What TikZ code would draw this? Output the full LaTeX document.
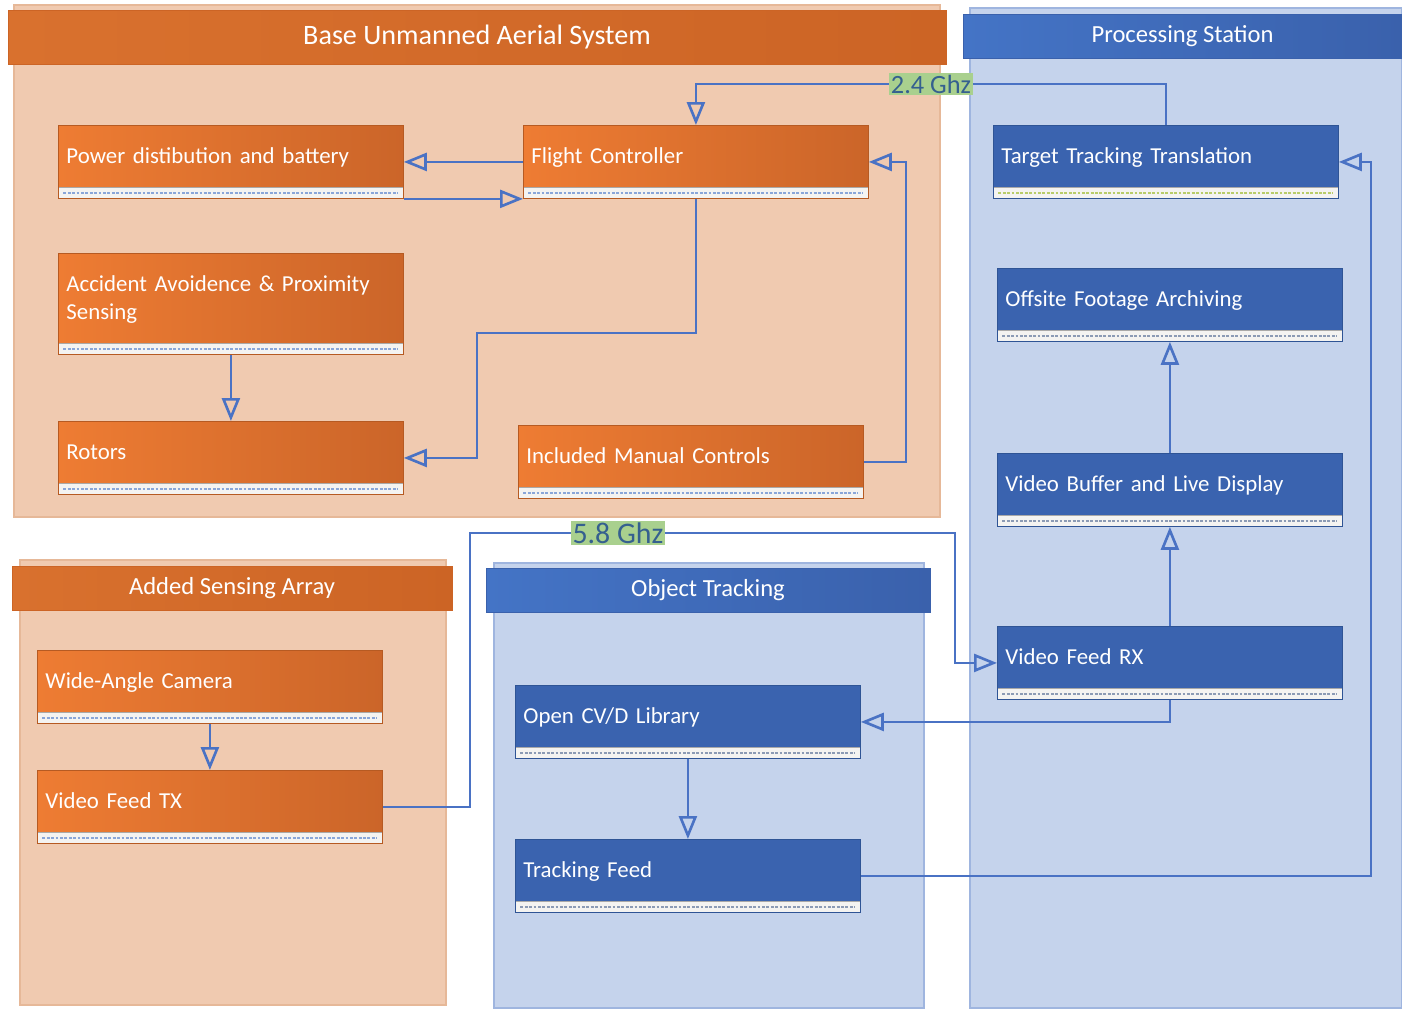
\documentclass[tikz,border=0pt]{standalone}
\usepackage{fontspec}
\setmainfont{Carlito}
\usepackage{tikz}
\usetikzlibrary{arrows.meta}
\usetikzlibrary{positioning}

\definecolor{peachpanel}{HTML}{F0CAB0}
\definecolor{peachedge}{HTML}{E6B898}
\definecolor{skypanel}{HTML}{C5D3EC}
\definecolor{skyedge}{HTML}{9FB5DF}
\definecolor{headorangeL}{HTML}{D9712E}
\definecolor{headorangeD}{HTML}{CC6425}
\definecolor{headblueL}{HTML}{4474C6}
\definecolor{headblueD}{HTML}{3A61AC}
\definecolor{orangeL}{HTML}{EE7C33}
\definecolor{orangeD}{HTML}{CB6529}
\definecolor{orangeedge}{HTML}{B65A22}
\definecolor{boxblue}{HTML}{3A63AF}
\definecolor{blueedge}{HTML}{2F5495}
\definecolor{linkblue}{HTML}{4A72C4}
\definecolor{stripbg}{HTML}{F4F3F1}
\definecolor{stripblue}{HTML}{8AA6D8}
\definecolor{stripgray}{HTML}{8C9BB5}
\definecolor{stripgreen}{HTML}{B8CC6A}
\definecolor{ghzgreen}{HTML}{A9D08E}
\definecolor{ghztext}{HTML}{35608F}

\tikzset{
  orangepanel/.style={fill=peachpanel, draw=peachedge, line width=0.6pt},
  bluepanel/.style={fill=skypanel, draw=skyedge, line width=0.6pt},
  orangehead/.style={left color=headorangeL, right color=headorangeD, draw=headorangeD, text=white, inner sep=0pt},
  bluehead/.style={left color=headblueL, right color=headblueD, draw=headblueD, text=white, inner sep=0pt, font=\fontsize{14}{16}\selectfont},
  comp/.style={anchor=north west, text width=6.58cm, inner xsep=0.16cm, inner ysep=0pt,
    text height=0.76cm, text depth=0.7cm, align=left, text=white, line width=0.5pt,
    font=\fontsize{13}{15.9}\selectfont,
    path picture={
      \fill[stripbg] (path picture bounding box.south west) rectangle ([yshift=0.22cm]path picture bounding box.south east);
      \draw[black, draw opacity=0.3, line width=0.4pt] ([yshift=0.22cm]path picture bounding box.south west) -- ([yshift=0.22cm]path picture bounding box.south east);
      \draw[#1, line width=0.9pt, dash pattern=on 1.6pt off 0.9pt] ([xshift=0.1cm,yshift=0.11cm]path picture bounding box.south west) -- ([xshift=-0.1cm,yshift=0.11cm]path picture bounding box.south east);
    }},
  orangebox/.style={comp=#1, draw=orangeedge, left color=orangeL, right color=orangeD},
  orangebox/.default=stripblue,
  bluebox/.style={comp=#1, draw=blueedge, fill=boxblue},
  bluebox/.default=stripgray,
  link/.style={draw=linkblue, line width=1.5pt, -{Triangle[open, length=0.46cm, width=0.36cm]}},
  ghz/.style={fill=ghzgreen, text=ghztext, inner sep=1pt}
}

\begin{document}
\begin{tikzpicture}[x=0.02cm,y=-0.02cm]
\useasboundingbox (0,0) rectangle (1402,1008);

% panels
\draw[orangepanel] (14,5) rectangle (940,517);
\draw[bluepanel] (970,8) rectangle (1402,1008);
\draw[orangepanel] (20,560) rectangle (446,1005);
\draw[bluepanel] (494,563) rectangle (924,1008);

\node[orangehead, minimum width=18.76cm, minimum height=1.08cm, font=\fontsize{16}{18}\selectfont] (uashead) at (477,37) {Base Unmanned Aerial System};
\node[bluehead, minimum width=8.78cm, minimum height=0.88cm] (pshead) at (1182.5,36) {Processing Station};
\node[orangehead, minimum width=8.8cm, minimum height=0.88cm, font=\fontsize{14}{16}\selectfont] (ashead) at (232,588) {Added Sensing Array};
\node[bluehead, minimum width=8.88cm, minimum height=0.88cm] (othead) at (708,590) {Object Tracking};

% base system
\node[orangebox] (power) at (58,125) {Power distibution and battery};
\node[orangebox] (fc) at (523,125) {Flight Controller};
\node[orangebox, text depth=1.26cm] (accident) at (58,253) {Accident Avoidence \& Proximity\\Sensing};
\node[orangebox] (rotors) at (58,421) {Rotors};
\node[orangebox] (manual) at (518,425) {Included Manual Controls};

% sensing array
\node[orangebox] (camera) at (37,650) {Wide-Angle Camera};
\node[orangebox] (videotx) at (37,770) {Video Feed TX};

% processing station
\node[bluebox=stripgreen] (tracktrans) at (993,125) {Target Tracking Translation};
\node[bluebox] (archive) at (997,268) {Offsite Footage Archiving};
\node[bluebox] (buffer) at (997,453) {Video Buffer and Live Display};
\node[bluebox] (videorx) at (997,626) {Video Feed RX};

% object tracking
\node[bluebox] (opencv) at (515,685) {Open CV/D Library};
\node[bluebox] (trackfeed) at (515,839) {Tracking Feed};

\coordinate (fcbend) at (477,333);
\coordinate (txup) at (470,533);
\coordinate (txdown) at (955,533);

\draw[link] (fc.west) -- (power.east);
\draw[link] (power.south east) -- (fc.south west);
\draw[link] (tracktrans.north) -- ++(0,-41) -| (fc.north);
\draw[link] (fc.south) |- (fcbend) |- (rotors.east);
\draw[link] (manual.east) -- ++(42,0) |- (fc.east);
\draw[link] (accident.south) -- (rotors.north);
\draw[link] (camera.south) -- (videotx.north);
\draw[link] (videotx.east) -| (txup) -- (txdown) |- (videorx.west);
\draw[link] (videorx.north) -- (buffer.south);
\draw[link] (buffer.north) -- (archive.south);
\draw[link] (videorx.south) |- (opencv.east);
\draw[link] (opencv.south) -- (trackfeed.north);
\draw[link] (trackfeed.east) -- ++(510,0) |- (tracktrans.east);

% link labels
\node[ghz, font=\fontsize{15}{17}\selectfont] (ghzlow) at (931,84) {2.4 Ghz};
\node[ghz, font=\fontsize{17}{19}\selectfont] (ghzhigh) at (618,533) {5.8 Ghz};
\end{tikzpicture}
\end{document}
